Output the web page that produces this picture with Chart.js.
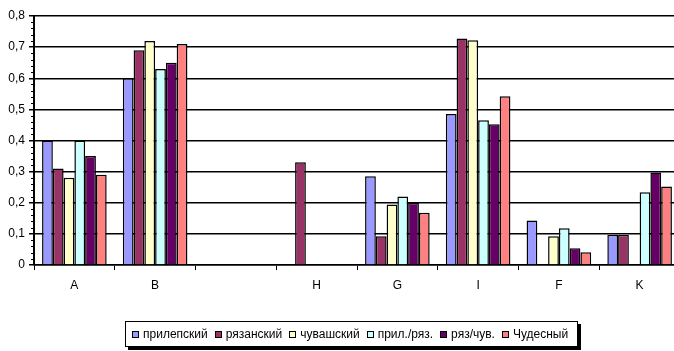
<!DOCTYPE html>
<html>
<head>
<meta charset="utf-8">
<script src="https://cdn.jsdelivr.net/npm/chart.js@4/dist/chart.umd.min.js"></script>
<style>
  html, body { margin: 0; padding: 0; background: #fff; overflow: hidden; }
  #wrap { position: relative; width: 674px; height: 351px; overflow: hidden; }
  #c { position: absolute; left: 0; top: 0; }
  #legend {
    position: absolute; left: 125px; top: 321px; height: 26px;
    border: 1px solid #000; box-shadow: 3px 3px 0 #000; background: #fff;
    display: flex; align-items: center; padding: 0 9px 0 6px; box-sizing: border-box;
    font: 12px Arial, "Liberation Sans", sans-serif; color: #000; white-space: nowrap;
  }
  #legend .item { display: flex; align-items: center; margin-right: 7px; }
  #legend .item:last-child { margin-right: 0; }
  #legend .sw { width: 5px; height: 5px; border: 1px solid #000; margin-right: 4px; }
</style>
</head>
<body>
<div id="wrap">
  <canvas id="c" width="682" height="351"></canvas>
  <div id="legend"></div>
</div>
<script>
// Categories along the x axis (third group has no label and no values)
const categories = ["A", "B", "", "H", "G", "I", "F", "K"];

// Series names and values per category
const seriesNames = ["прилепский", "рязанский", "чувашский", "прил./ряз.", "ряз/чув.", "Чудесный"];
const prilepsky  = [0.40, 0.60, null, null, 0.285, 0.485, 0.143, 0.097];
const ryazansky  = [0.31, 0.69, null, 0.33, 0.092, 0.728, null, 0.097];
const chuvashsky = [0.28, 0.72, null, null, 0.194, 0.722, 0.092, null];
const prilRyaz   = [0.40, 0.63, null, null, 0.220, 0.465, 0.118, 0.234];
const ryazChuv   = [0.35, 0.65, null, null, 0.200, 0.452, 0.054, 0.297];
const chudesny   = [0.29, 0.71, null, null, 0.168, 0.542, 0.041, 0.252];

// Y axis tick labels
const yTickLabels = ["0", "0,1", "0,2", "0,3", "0,4", "0,5", "0,6", "0,7", "0,8"];

const seriesValues = [prilepsky, ryazansky, chuvashsky, prilRyaz, ryazChuv, chudesny];
const seriesColors = ["#9999FF", "#993366", "#FFFFCC", "#CCFFFF", "#660066", "#FF8080"];

const FONT = "Arial, 'Liberation Sans', sans-serif";

// Short minor tick marks on the value axis every 0.02
const minorTicks = {
  id: "minorTicks",
  afterDraw(chart) {
    const y = chart.scales.y;
    const ctx = chart.ctx;
    const x0 = chart.chartArea.left;
    ctx.save();
    ctx.strokeStyle = "#000";
    ctx.lineWidth = 1;
    for (let i = 0; i <= 40; i++) {
      if (i % 5 === 0) continue;
      const py = Math.round(y.getPixelForValue(i * 0.02)) + 0.5;
      ctx.beginPath();
      ctx.moveTo(x0 - 3, py);
      ctx.lineTo(x0, py);
      ctx.stroke();
    }
    ctx.restore();
  }
};

new Chart(document.getElementById("c"), {
  type: "bar",
  data: {
    labels: categories,
    datasets: seriesNames.map((name, i) => ({
      label: name,
      data: seriesValues[i],
      backgroundColor: seriesColors[i],
      borderColor: "#000",
      borderWidth: 1.5,
      categoryPercentage: 0.8,
      barPercentage: 1.0
    }))
  },
  options: {
    responsive: false,
    devicePixelRatio: 1,
    animation: false,
    layout: { padding: { top: 16, right: 2, left: 0, bottom: 0 } },
    plugins: { legend: { display: false }, tooltip: { enabled: false } },
    scales: {
      x: {
        grid: { drawOnChartArea: false, drawTicks: true, tickLength: 5, tickColor: "#000", offset: true, lineWidth: 1 },
        border: { color: "#000", width: 1.5 },
        ticks: { color: "#000", font: { family: FONT, size: 12 }, padding: 8, maxRotation: 0 },
        afterFit(scale) { scale.height = 86; }
      },
      y: {
        min: 0, max: 0.8,
        grid: { color: "#000", lineWidth: 1.5, drawTicks: true, tickLength: 5, tickColor: "#000" },
        border: { color: "#000", width: 2 },
        ticks: {
          stepSize: 0.1, color: "#000", font: { family: FONT, size: 12 }, padding: 4,
          callback: (v, i) => yTickLabels[i]
        },
        afterFit(scale) { scale.width = 34; }
      }
    }
  },
  plugins: [minorTicks]
});

// Boxed legend under the plot
const legend = document.getElementById("legend");
seriesNames.forEach((name, i) => {
  const item = document.createElement("div");
  item.className = "item";
  const sw = document.createElement("span");
  sw.className = "sw";
  sw.style.background = seriesColors[i];
  const t = document.createElement("span");
  t.textContent = name;
  item.appendChild(sw);
  item.appendChild(t);
  legend.appendChild(item);
});
</script>
</body>
</html>
